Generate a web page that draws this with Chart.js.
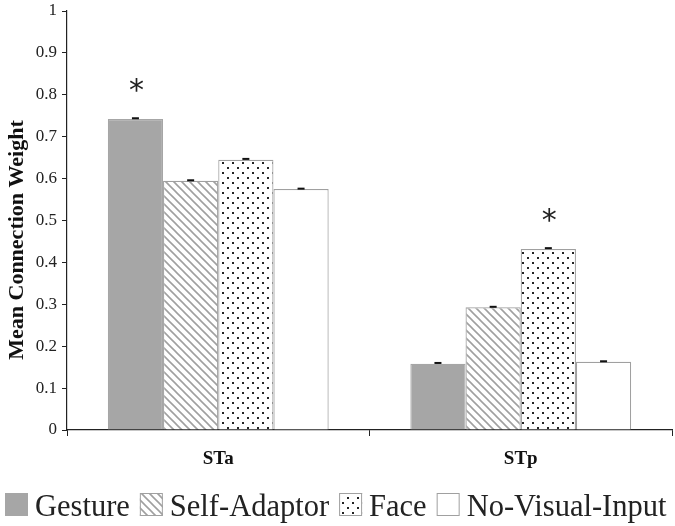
<!DOCTYPE html>
<html><head><meta charset="utf-8">
<script src="https://cdn.jsdelivr.net/npm/chart.js@4/dist/chart.umd.min.js"></script>
<style>html,body{margin:0;padding:0;background:#fff}#wrap{width:675px;height:526px}</style>
</head><body><div id="wrap"><canvas id="c" width="675" height="526"></canvas></div>
<script>
const categories = ["STa", "STp"];
const seriesNames = ["Gesture", "Self-Adaptor", "Face", "No-Visual-Input"];
const gesture = [0.742, 0.158];
const selfAdaptor = [0.595, 0.293];
const face = [0.645, 0.432];
const noVisual = [0.575, 0.163];
const errors = [[0.002, 0.002], [0.001, 0.001], [0.002, 0.002], [0.001, 0.001]];
const significant = [[true, false], [false, false], [false, true], [false, false]];
const yTicks = [0, 0.1, 0.2, 0.3, 0.4, 0.5, 0.6, 0.7, 0.8, 0.9, 1];
const yTitle = "Mean Connection Weight";

function hatchPattern() {
  const c = document.createElement('canvas'); c.width = 8; c.height = 8;
  const g = c.getContext('2d');
  g.fillStyle = '#fff'; g.fillRect(0, 0, 8, 8);
  g.strokeStyle = '#a0a0a0'; g.lineWidth = 1.6;
  g.beginPath();
  g.moveTo(-2, -2); g.lineTo(10, 10);
  g.moveTo(-6, 2); g.lineTo(2, 10);
  g.moveTo(6, -2); g.lineTo(10, 2);
  g.stroke();
  return g.createPattern(c, 'repeat');
}
function dotPattern() {
  const c = document.createElement('canvas'); c.width = 10; c.height = 10;
  const g = c.getContext('2d');
  g.fillStyle = '#fff'; g.fillRect(0, 0, 10, 10);
  g.fillStyle = '#222';
  g.fillRect(2, 2, 2, 2);
  g.fillRect(7, 7, 2, 2);
  return g.createPattern(c, 'repeat');
}
const fills = ['#a6a6a6', hatchPattern(), dotPattern(), '#ffffff'];
const borders = ['#a6a6a6', '#a0a0a0', '#a0a0a0', '#a0a0a0'];
const values = [gesture, selfAdaptor, face, noVisual];

const extras = {
  id: 'extras',
  afterDatasetsDraw(chart) {
    const ctx = chart.ctx;
    const y = chart.scales.y;
    ctx.save();
    chart.data.datasets.forEach((ds, i) => {
      const meta = chart.getDatasetMeta(i);
      meta.data.forEach((bar, j) => {
        const v = ds.data[j], e = errors[i][j];
        const yt = y.getPixelForValue(v + e), yb = y.getPixelForValue(v - e);
        ctx.fillStyle = '#111';
        ctx.fillRect(bar.x - 3.5, Math.min(yt, yb) - 1, 7, Math.max(2, Math.abs(yb - yt)));
        if (significant[i][j]) {
          ctx.font = '30px "DejaVu Sans"';
          ctx.textAlign = 'center'; ctx.textBaseline = 'middle';
          ctx.fillStyle = '#222';
          ctx.fillText('*', bar.x + 1, y.getPixelForValue(v) - 27);
        }
      });
    });
    // y axis title
    ctx.save();
    ctx.translate(17, 240);
    ctx.rotate(-Math.PI / 2);
    ctx.font = 'bold 22px "Liberation Serif"';
    ctx.textAlign = 'center'; ctx.textBaseline = 'middle';
    ctx.fillStyle = '#111';
    ctx.fillText(yTitle, 0, 0);
    ctx.restore();
    // legend
    ctx.font = '30.5px "Liberation Serif"';
    ctx.textBaseline = 'alphabetic'; ctx.textAlign = 'left';
    let x = 5; const top = 493, base = 516;
    seriesNames.forEach((name, i) => {
      ctx.fillStyle = fills[i];
      ctx.fillRect(x, top, 23, 23);
      ctx.strokeStyle = borders[i]; ctx.lineWidth = 1;
      ctx.strokeRect(x + 0.5, top + 0.5, 22, 22);
      ctx.fillStyle = '#222';
      ctx.fillText(name, x + 30, base);
      x += 30 + ctx.measureText(name).width + 10;
    });
    ctx.restore();
  }
};

new Chart(document.getElementById('c'), {
  type: 'bar',
  data: {
    labels: categories,
    datasets: seriesNames.map((n, i) => ({
      label: n, data: values[i], backgroundColor: fills[i],
      borderColor: borders[i], borderWidth: 1.2,
      categoryPercentage: 0.73, barPercentage: 1.0
    }))
  },
  options: {
    responsive: false, animation: false,
    layout: { padding: { left: 0, right: 3, top: 11, bottom: 0 } },
    plugins: { legend: { display: false }, tooltip: { enabled: false } },
    scales: {
      x: {
        afterFit(s) { s.height = 96; s.paddingLeft = 0; s.paddingRight = 0; },
        grid: { drawOnChartArea: false, color: '#222', tickLength: 6, offset: true },
        border: { color: '#222', width: 1.2 },
        ticks: { color: '#111', padding: 12, font: { family: 'Liberation Serif', size: 19, weight: 'bold' } }
      },
      y: {
        min: 0, max: 1,
        afterFit(s) { s.width = 67; s.paddingTop = 0; s.paddingBottom = 0; },
        afterBuildTicks(s) { s.ticks = yTicks.map(v => ({ value: v })); },
        grid: { drawOnChartArea: false, color: '#222', tickLength: 5 },
        border: { color: '#222', width: 1.2 },
        ticks: { color: '#222', padding: 5, font: { family: 'Liberation Serif', size: 17 },
          callback: v => String(v) }
      }
    }
  },
  plugins: [extras]
});
</script></body></html>
